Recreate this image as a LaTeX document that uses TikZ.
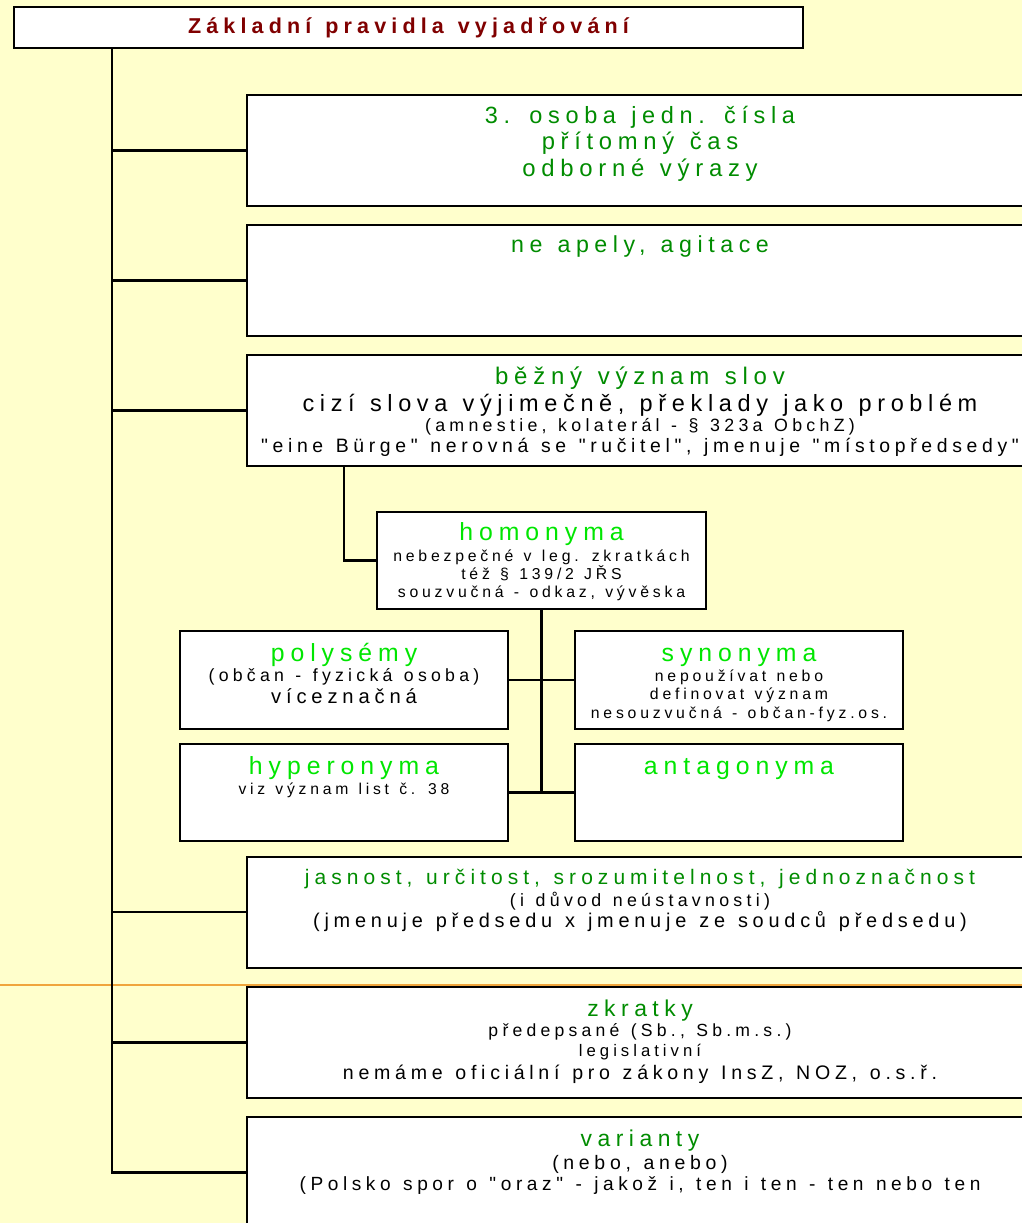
\documentclass[tikz,border=0pt]{standalone}
\usepackage{fontspec}
\setmainfont{Liberation Sans}[Ligatures=TeXOff]
\usepackage{tikz}
\usetikzlibrary{positioning}

\definecolor{paper}{RGB}{255,255,204}
\definecolor{darkred}{RGB}{128,0,0}
\definecolor{headgreen}{RGB}{0,140,0}
\definecolor{litegreen}{RGB}{0,230,0}
\definecolor{rulecol}{RGB}{240,165,60}

\setlength{\lineskiplimit}{-1000pt}
\newcommand{\fsz}[1]{\fontsize{#1}{#1}\selectfont\addfontfeature{LetterSpace=24}\spaceskip=0.65em\relax}
\newcommand{\gh}[2]{{\fsz{#1}\color{headgreen}\rule{0pt}{#1pt}#2}}
\newcommand{\lh}[2]{{\fsz{#1}\color{litegreen}\rule{0pt}{#1pt}#2}}
\newcommand{\tx}[2]{{\fsz{#1}#2}}

\begin{document}
\begin{tikzpicture}[x=1pt, y=-1pt,
		box/.style={draw, fill=white, line width=2pt, inner sep=0pt, minimum width=786pt, minimum height=111pt},
		small/.style={box, minimum width=328pt, minimum height=98pt},
		txt/.style={anchor=north, inner sep=0pt, align=center, font=\fontsize{10pt}{0pt}\selectfont},
		wire/.style={line width=2.2pt}]
		\clip (0,0) rectangle (1022,1223);
		\fill[paper] (0,0) rectangle (1022,1223);
		\draw[rulecol, line width=2pt] (0,985) -- (1022,985);
		
		\node[box, minimum width=789pt, minimum height=41pt, text=darkred] (title) at (408.5,27.5) {\bfseries\fsz{21.5}Základní pravidla vyjadřování};
		\coordinate (trunk) at ([xshift=99pt]title.south west);
		
		\node[box] (b1) at (640,150.5) {};
		\node[box] (b2) at (640,280.5) {};
		\node[box] (b3) at (640,410.5) {};
		\node[box] (b4) at (640,912) {};
		\node[box] (b5) at (640,1042.5) {};
		\node[box] (b6) at (640,1172.5) {};
		\foreach \b in {b1,b2,b3,b4,b5,b6}
			\draw[wire] (trunk) |- (\b.west);
		
		\node[small, minimum width=329pt, minimum height=97pt] (homo) at (541.5,560.5) {};
		\node[small] (poly) at (344,680) {};
		\node[small] (syn) at (739,680) {};
		\node[small, minimum height=97pt] (hyper) at (344,792.5) {};
		\node[small, minimum height=97pt] (anta) at (739,792.5) {};
		
		\draw[wire] ([xshift=98pt]b3.south west) |- (homo.west);
		\draw[wire] (homo.south) -- (homo.south |- hyper.east);
		\draw[wire] (poly.east) -- (syn.west);
		\draw[wire] (hyper.east) -- (anta.west);
		
		\node[txt, below=5.5pt of b1.north] (t1) {\gh{23.5}{3. osoba jedn. čísla}\\[26.5pt]\gh{23.8}{přítomný čas}\\[26.5pt]\gh{23.9}{odborné výrazy}};
		\node[txt, below=5.5pt of b2.north] (t2) {\gh{23.2}{ne apely, agitace}};
		\node[txt, below=6pt of b3.north] (t3) {\gh{24}{běžný význam slov}\\[27pt]\tx{23.5}{cizí slova výjimečně, překlady jako problém}\\[20.5pt]\tx{17.8}{(amnestie, kolaterál - § 323a ObchZ)}\\[21pt]\tx{19.4}{"eine Bürge" nerovná se "ručitel", jmenuje "místopředsedy"}};
		\node[txt, below=4.5pt of homo.north] (thomo) {\lh{24.8}{homonyma}\\[20.7pt]\tx{15.8}{nebezpečné v leg. zkratkách}\\[18pt]\tx{15.8}{též § 139/2 JŘS}\\[18pt]\tx{15.8}{souzvučná - odkaz, vývěska}};
		\node[txt, below=6.5pt of poly.north] (tpoly) {\lh{24.8}{polysémy}\\[20pt]\tx{17.7}{(občan - fyzická osoba)}\\[22pt]\tx{20.2}{víceznačná}};
		\node[txt, below=6.5pt of syn.north] (tsyn) {\lh{24.8}{synonyma}\\[19.7pt]\tx{15.8}{nepoužívat nebo}\\[18pt]\tx{15.8}{definovat význam}\\[19pt]\tx{15.8}{nesouzvučná - občan-fyz.os.}};
		\node[txt, below=6.5pt of hyper.north] (thyper) {\lh{24.8}{hyperonyma}\\[19.7pt]\tx{15.7}{viz význam list č. 38}};
		\node[txt, below=6.5pt of anta.north] (tanta) {\lh{24.8}{antagonyma}};
		\node[txt, below=8pt of b4.north] (t4) {\gh{21}{jasnost, určitost, srozumitelnost, jednoznačnost}\\[21.4pt]\tx{17.8}{(i důvod neústavnosti)}\\[21.4pt]\tx{19.9}{(jmenuje předsedu x jmenuje ze soudců předsedu)}};
		\node[txt, below=7pt of b5.north] (t5) {\gh{22.9}{zkratky}\\[20.7pt]\tx{17.6}{předepsané (Sb., Sb.m.s.)}\\[19.7pt]\tx{16.7}{legislativní}\\[22.6pt]\tx{19.6}{nemáme oficiální pro zákony InsZ, NOZ, o.s.ř.}};
		\node[txt, below=7pt of b6.north] (t6) {\gh{22.9}{varianty}\\[23.2pt]\tx{19.5}{(nebo, anebo)}\\[21.6pt]\tx{19.1}{(Polsko spor o "oraz" - jakož i, ten i ten - ten nebo ten}}; % no closing bracket in the source
	\end{tikzpicture}
\end{document}
